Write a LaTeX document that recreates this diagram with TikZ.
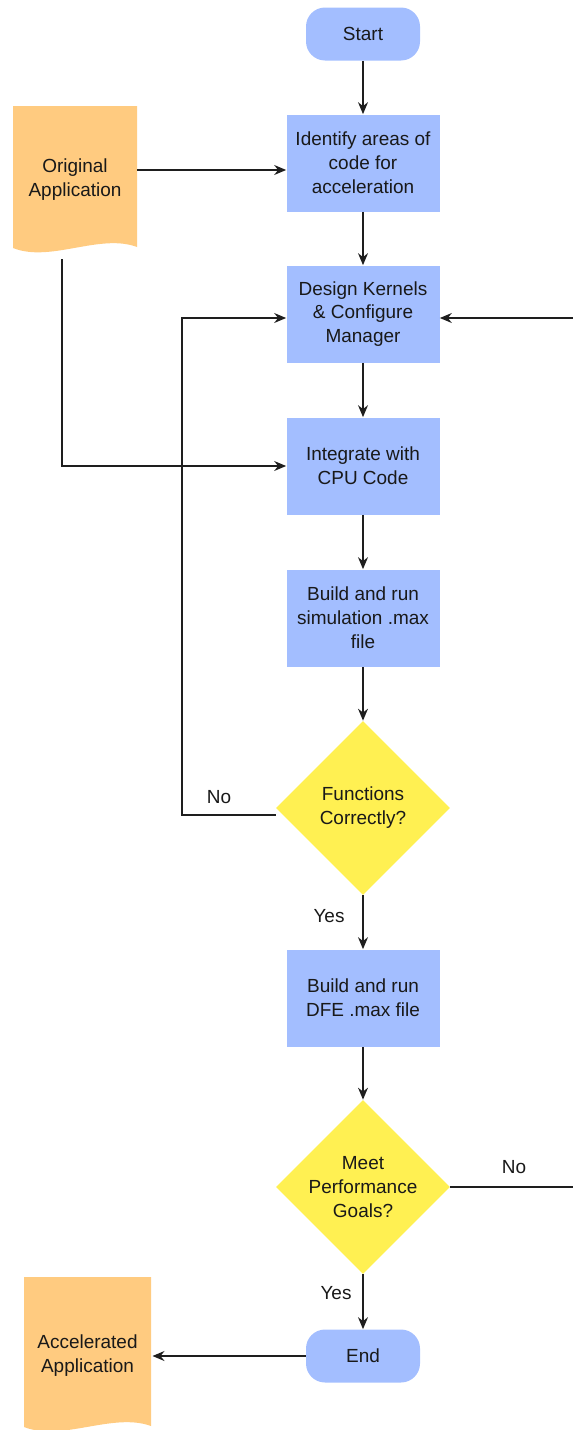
\documentclass[tikz,border=0pt]{standalone}
\usepackage{fontspec}
\setmainfont{Liberation Sans}
\usetikzlibrary{shapes.geometric,arrows.meta,backgrounds}

\newdimen\px \px=0.02cm
\definecolor{stepblue}{RGB}{163,190,255}
\definecolor{docorange}{RGB}{255,203,128}
\definecolor{decyellow}{RGB}{255,240,82}
\definecolor{wire}{RGB}{30,30,30}
\definecolor{ink}{RGB}{25,25,25}

% document shape: flat top, wavy bottom, drawn round a text node
% #1 node, #2 top offset, #3 bottom offset (lowest dip), #4 half width
\newcommand\docshape[4]{%
  \fill[docorange] ([shift={(-#4,-#2)}]#1.center) -- ([shift={(#4,-#2)}]#1.center)
    -- ([shift={(#4,{#3-6})}]#1.center)
    .. controls ([shift={({0.4*#4},{#3-20})}]#1.center)
       and ([shift={({-0.4*#4},{#3+10})}]#1.center)
    .. ([shift={(-#4,{#3-5})}]#1.center) -- cycle;}

\begin{document}
\begin{tikzpicture}[x=0.02cm,y=-0.02cm,
  every node/.style={font=\fontsize{10.8pt}{13.6pt}\selectfont, text=ink, align=center},
  stepbox/.style={fill=stepblue, minimum width=153\px, minimum height=97\px, inner sep=0pt},
  terminal/.style={fill=stepblue, rounded corners=19\px, minimum width=114\px, minimum height=53\px, inner sep=0pt},
  decision/.style={diamond, aspect=1, fill=decyellow, minimum width=174\px, minimum height=174\px, inner sep=0pt},
  docnode/.style={inner sep=0pt},
  lbl/.style={inner sep=0pt},
  flow/.style={draw=wire, line width=0.75pt, -{Stealth[length=2.4mm,width=2mm,inset=0.8mm]}}]

\path[use as bounding box, clip] (0,0) rectangle (573,1430);

% main column
\node[terminal] (start) at (363,34) {Start};
\node[stepbox] (box1) at (363,163) {Identify areas of\\code for\\acceleration};
\node[stepbox] (box2) at (363,314) {Design Kernels\\\& Configure\\Manager};
\node[stepbox] (box3) at (363,466) {Integrate with\\CPU Code};
\node[stepbox] (box4) at (363,618) {Build and run\\simulation .max\\file};
\node[decision] (d1) at (363,808) {Functions\\Correctly?};
\node[stepbox] (box5) at (363,998) {Build and run\\DFE .max file};
\node[decision] (d2) at (363,1187) {Meet\\Performance\\Goals?};
\node[terminal] (end) at (363,1356) {End};

% documents
\node[docnode] (orig) at (75,180) {Original\\Application};
\node[docnode] (accel) at (87.5,1356) {Accelerated\\Application};
\begin{scope}[on background layer]
  \docshape{orig}{74}{73}{62}
  \docshape{accel}{79}{76}{63.5}
\end{scope}

% connector end points
\coordinate (orig-e) at ([shift={(62,-10)}]orig.center);
\coordinate (orig-s) at ([shift={(-13,79)}]orig.center);
\coordinate (accel-e) at ([shift={(65,0)}]accel.center);
\coordinate (d1-w) at ([shift={(0,7)}]d1.west);
\coordinate (rail-l) at (182,318);
\coordinate (rail-r) at (600,318);

% main flow
\draw[flow] (start) -- (box1);
\draw[flow] (box1) -- (box2);
\draw[flow] (box2) -- (box3);
\draw[flow] (box3) -- (box4);
\draw[flow] (box4) -- (d1);
\draw[flow] (d1) -- (box5);
\draw[flow] (box5) -- (d2);
\draw[flow] (d2) -- (end);

% side connections
\draw[flow] (orig-e) -- (orig-e -| box1.west);
\draw[flow] (orig-s) |- (box3.west);
\draw[flow] (d1-w) -| (rail-l) -- (rail-l -| box2.west);
\draw[flow] (d2.east) -| (rail-r) -- (rail-r -| box2.east);
\draw[flow] (end.west) -- (accel-e);

% branch labels
\node[lbl] (no1) at (219,797) {No};
\node[lbl] (yes1) at (329,916) {Yes};
\node[lbl] (no2) at (514,1167) {No};
\node[lbl] (yes2) at (336,1293) {Yes};
\end{tikzpicture}
\end{document}
